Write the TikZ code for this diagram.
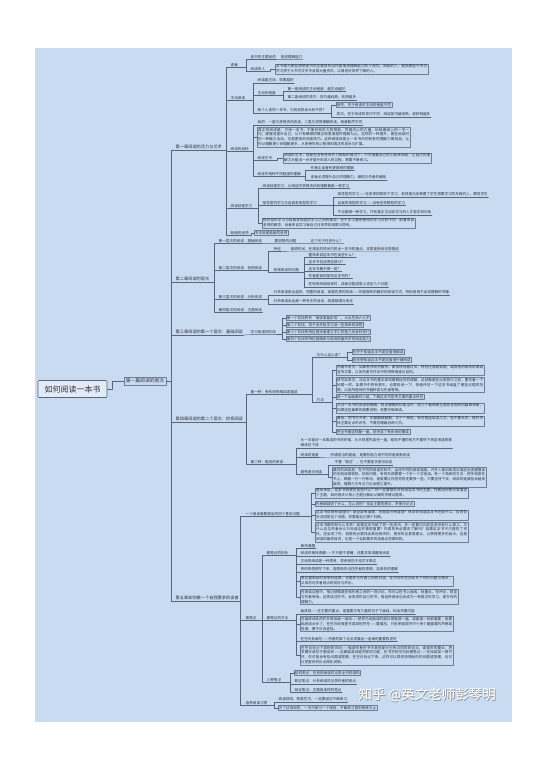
\documentclass[tikz,border=0pt]{standalone}
\usepackage{fontspec}
\setmainfont{Noto Sans CJK SC}
\XeTeXlinebreaklocale "zh"
\XeTeXlinebreakskip=0pt plus 0.5pt
\definecolor{bgblue}{RGB}{201,219,240}
\definecolor{linec}{RGB}{88,102,124}
\definecolor{boxc}{RGB}{110,126,150}
\definecolor{txtc}{RGB}{45,50,60}
\definecolor{rootf}{RGB}{226,235,247}
\tikzset{
  link/.style={draw=linec,line width=0.4pt},
  leafnode/.style={anchor=west,inner xsep=0.5pt,inner ysep=0.8pt,text=txtc,font=\fontsize{3.6}{4.8}\selectfont},
  chapnode/.style={leafnode,font=\fontsize{4.2}{5}\selectfont},
  tagnode/.style={leafnode,draw=boxc,line width=0.3pt,inner sep=0.8pt},
  paranode/.style={leafnode,draw=boxc,line width=0.3pt,inner sep=1pt,text width=#1,align=justify},
  booknode/.style={draw=linec,fill=rootf,line width=0.7pt,rounded corners=1pt,minimum width=69pt,minimum height=17pt,inner sep=2pt,text=txtc,font=\fontsize{8}{9}\selectfont},
  partnode/.style={draw=boxc,line width=0.4pt,inner sep=1.6pt,text=txtc,font=\fontsize{4.8}{5.5}\selectfont},
  wmnode/.style={font=\fontsize{13.5}{14}\selectfont}
}
\begin{document}
\begin{tikzpicture}[x=1pt,y=-1pt,line join=round,line cap=round]
\useasboundingbox (0,0) rectangle (546,767);
\fill[bgblue] (35,48) rectangle (512,722);

\node[booknode] (book) at (72.5,389) {如何阅读一本书};
\node[partnode] (p1) at (145,381) {第一篇阅读的层次};
\coordinate (t0) at (171,0);
\draw[link] (book.east) -- ++(5,0) |- (p1.west);

\node[chapnode] (c1) at (175,147) {第一章阅读的活力与艺术};
\node[chapnode] (c2) at (175,279) {第二章阅读的层次};
\node[chapnode] (c3) at (175,332) {第三章阅读的第一个层次：基础阅读};
\node[chapnode] (c4) at (175,419) {第四章阅读的第二个层次：检视阅读};
\node[chapnode] (c5) at (175,598) {第五章如何做一个自我要求的读者};
\draw[link] (p1.east) -- (p1.east -| t0);
\foreach \c in {c1,c2,c3,c4,c5}
  \draw[link] (p1.east -| t0) |- (\c.south west) -- (\c.south east);

\coordinate (t1) at (226,0);
\node[leafnode] (a1) at (230,65) {读者};
\node[leafnode] (a2) at (230,98) {主动阅读};
\node[leafnode] (a3) at (230,149) {阅读的目标};
\node[leafnode] (a4) at (230,206) {阅读就是学习};
\node[leafnode] (a5) at (230,233) {缺席的老师};
\draw[link] (c1.south east) -- (c1.south east -| t1);
\foreach \c in {a1,a2,a3,a4,a5}
  \draw[link] (c1.south east -| t1) |- (\c.south west) -- (\c.south east);

\coordinate (ta1) at (246,0);
\node[leafnode] (a1a) at (250,57) {读书的主要目的};
\node[leafnode] (a1a1) at (280,57) {增进理解能力};
\node[leafnode] (a1b) at (250,69) {阅读的人};
\node[paranode=151pt] (a1b1) at (275,69) {本书是为那些想把读书的主要目的当作是增进理解能力的人而写。阅读的人，是指那些今天仍然习惯于从书写文字中汲取大量资讯，以增进对世界了解的人。};
\draw[link] (a1.south east) -- (a1.south east -| ta1);
\foreach \c in {a1a,a1b}
  \draw[link] (a1.south east -| ta1) |- (\c.south west) -- (\c.south east);
\draw[link] (a1a.south east) -- (a1a1.south west) -- (a1a1.south east);
\draw[link] (a1b.south east) -- ++(4,0) |- (a1b1.west);

\coordinate (ta2) at (253,0);
\node[leafnode] (a2a) at (257,80) {阅读越主动，效果越好};
\node[leafnode] (a2b) at (257,93) {主动的程度};
\node[leafnode] (a2c) at (257,110) {两个人读同一本书，为何收获会大有不同？};
\draw[link] (a2.south east) -- (a2.south east -| ta2);
\foreach \c in {a2a,a2b,a2c}
  \draw[link] (a2.south east -| ta2) |- (\c.south west) -- (\c.south east);
\coordinate (ta2b) at (283,0);
\node[leafnode] (a2b1) at (287,89) {第一是阅读的主动程度：越主动越好};
\node[leafnode] (a2b2) at (287,97) {第二是阅读的技巧：技巧越纯熟，收获越多};
\draw[link] (a2b.south east) -- (a2b.south east -| ta2b);
\foreach \c in {a2b1,a2b2}
  \draw[link] (a2b.south east -| ta2b) |- (\c.south west) -- (\c.south east);
\coordinate (ta2c) at (331,0);
\node[tagnode] (a2c1) at (336,105) {首先，在于阅读时主动的程度不同};
\node[leafnode] (a2c2) at (336,114) {其次，在于阅读的技巧不同：阅读技巧越纯熟，收获就越多};
\draw[link] (a2c.south east) -- (a2c.south east -| ta2c) |- (a2c1.west);
\draw[link] (a2c.south east -| ta2c) |- (a2c2.south west) -- (a2c2.south east);

\coordinate (ta3) at (253,0);
\node[leafnode] (a3a) at (257,122) {目的：一是为获得资讯而读，二是为求得理解而读，两者截然不同};
\node[paranode=151pt] (a3b) at (257,137) {真正的阅读是：只用一本书，不靠任何外力的帮助，凭着内心的力量，玩味着纸上的一字一句，慢慢地提升自己，从只有模糊的概念到更清楚的理解为止。这样的一种提升，是在阅读时的一种脑力活动，也是更高的阅读技巧。这种阅读就是让一本书向你既有的理解力做挑战，让你从理解更少到理解更多，从而使你的心智得到真正的成长与扩展。};
\node[leafnode] (a3c) at (257,158) {阅读艺术};
\node[leafnode] (a3d) at (257,174) {阅读中两种不同程度的理解};
\draw[link] (a3.south east) -- (a3.south east -| ta3);
\foreach \c in {a3a,a3c,a3d}
  \draw[link] (a3.south east -| ta3) |- (\c.south west) -- (\c.south east);
\draw[link] (a3.south east -| ta3) |- (a3b.west);
\node[paranode=146pt] (a3c1) at (283,158) {阅读的艺术，就是在没有任何外力帮助的情况下，只凭借着自己的心智来阅读，让自己的理解力从粗浅一步步提升到深入的过程，需要不断练习。};
\draw[link] (a3c.south east) -- ++(4,0) |- (a3c1.west);
\coordinate (ta3d) at (305,0);
\node[leafnode] (a3d1) at (310,168) {作者比读者有更高明的理解};
\node[leafnode] (a3d2) at (310,177) {读者必须提升自己的理解力，缩短与作者的差距};
\draw[link] (a3d.south east) -- (a3d.south east -| ta3d);
\foreach \c in {a3d1,a3d2}
  \draw[link] (a3d.south east -| ta3d) |- (\c.south west) -- (\c.south east);

\coordinate (ta4) at (258,0);
\node[leafnode] (a4a) at (262,186) {阅读就是学习：从阅读中获得资讯和理解都是一种学习};
\node[leafnode] (a4b) at (262,203) {指导型的学习与自我发现型的学习};
\node[paranode=151pt] (a4c) at (262,223) {指导型的学习与自我发现型的学习之间的差异，在于学习者所使用的学习材料不同：前者来自老师的教导，后者来自学习者自己对世界的观察与思考。};
\draw[link] (a4.south east) -- (a4.south east -| ta4);
\foreach \c in {a4a,a4b}
  \draw[link] (a4.south east -| ta4) |- (\c.south west) -- (\c.south east);
\draw[link] (a4.south east -| ta4) |- (a4c.west);
\coordinate (ta4b) at (333,0);
\node[leafnode] (a4b1) at (337,194) {指导型的学习——在老师的帮助下学习，老师是已经掌握了学生想要学习的东西的人，教导学生};
\node[leafnode] (a4b2) at (337,203) {自我发现型的学习——没有老师帮助的学习};
\node[leafnode] (a4b3) at (337,212) {不论是哪一种学习，只有真正主动去学习的人才能学到东西};
\draw[link] (a4b.south east) -- (a4b.south east -| ta4b);
\foreach \c in {a4b1,a4b2,a4b3}
  \draw[link] (a4b.south east -| ta4b) |- (\c.south west) -- (\c.south east);
\node[tagnode] (a5a) at (254,233) {书本就是缺席的老师};
\draw[link] (a5.south east) -- ++(2,0) |- (a5a.west);

\coordinate (t2) at (214,0);
\node[leafnode] (b1) at (218,241) {第一层次的阅读：基础阅读};
\node[leafnode] (b2) at (218,268) {第二层次的阅读：检视阅读};
\node[leafnode] (b3) at (218,297) {第三层次的阅读：分析阅读};
\node[leafnode] (b4) at (218,310) {第四层次的阅读：主题阅读};
\draw[link] (c2.south east) -- (c2.south east -| t2);
\foreach \c in {b1,b2,b3,b4}
  \draw[link] (c2.south east -| t2) |- (\c.south west) -- (\c.south east);
\node[leafnode] (b1a) at (274,241) {要回答的问题};
\node[leafnode] (b1a1) at (310,241) {这个句子在说什么？};
\draw[link] (b1.south east) -- (b1a.south west) -- (b1a.south east) -- (b1a1.south west) -- (b1a1.south east);

\coordinate (tb2) at (268,0);
\node[leafnode] (b2a) at (273,249) {特征};
\node[leafnode] (b2a1) at (290,249) {强调时间，在规定的时间内抓出一本书的重点，本质是系统化的略读};
\node[leafnode] (b2b) at (273,270) {检视阅读的问题};
\draw[link] (b2.south east) -- (b2.south east -| tb2);
\foreach \c in {b2a,b2b}
  \draw[link] (b2.south east -| tb2) |- (\c.south west) -- (\c.south east);
\draw[link] (b2a.south east) -- (b2a1.south west) -- (b2a1.south east);
\coordinate (tb2b) at (304,0);
\node[leafnode] (b2b1) at (308,255) {整体来说这本书在谈些什么？};
\node[leafnode] (b2b2) at (308,262) {这本书包含哪些部分？};
\node[leafnode] (b2b3) at (308,269) {这本书属于哪一类？};
\node[leafnode] (b2b4) at (308,276) {作者是如何架构这本书的？};
\node[leafnode] (b2b5) at (308,284) {在检视阅读结束时，读者应能回答上述这几个问题};
\draw[link] (b2b.south east) -- (b2b.south east -| tb2b);
\foreach \c in {b2b1,b2b2,b2b3,b2b4,b2b5}
  \draw[link] (b2b.south east -| tb2b) |- (\c.south west) -- (\c.south east);

\coordinate (tb3) at (268,0);
\node[leafnode] (b3a) at (273,292) {分析阅读是全盘的、完整的阅读，或是优质的阅读——你能做到的最好的阅读方式，特别适用于追求理解的书籍};
\node[leafnode] (b3b) at (273,301) {分析阅读永远是一种专注的活动，就是咀嚼与消化};
\draw[link] (b3.south east) -- (b3.south east -| tb3);
\foreach \c in {b3a,b3b}
  \draw[link] (b3.south east -| tb3) |- (\c.south west) -- (\c.south east);

\node[leafnode] (cc1) at (250,332) {学习阅读的阶段};
\draw[link] (c3.south east) -- (cc1.south west) -- (cc1.south east);
\coordinate (tc3) at (282,0);
\node[tagnode] (cc1a) at (286,318) {第一个阶段称作“阅读准备阶段”，从出生到六七岁};
\node[tagnode] (cc1b) at (286,325) {第二个阶段，孩子会开始学习读一些简单的读物};
\node[tagnode] (cc1c) at (286,332) {第三个阶段的特征是快速建立字汇的能力及各种技巧};
\node[tagnode] (cc1d) at (286,339) {第四个阶段的特征是精练与增进前面所学的阅读能力};
\draw[link] (cc1.south east) -- (cc1.south east -| tc3);
\foreach \c in {cc1a,cc1b,cc1c,cc1d}
  \draw[link] (cc1.south east -| tc3) |- (\c.west);

\coordinate (t4) at (246,0);
\node[leafnode] (d1) at (250,392) {第一种：有系统的略读或粗读};
\node[leafnode] (d2) at (250,462) {第二种：粗浅的阅读};
\draw[link] (c4.south east) -- (c4.south east -| t4);
\foreach \c in {d1,d2}
  \draw[link] (c4.south east -| t4) |- (\c.south west) -- (\c.south east);
\coordinate (td1) at (312,0);
\node[leafnode] (d1a) at (316,355) {为什么这么读？};
\node[leafnode] (d1b) at (316,400) {方法};
\draw[link] (d1.south east) -- (d1.south east -| td1);
\foreach \c in {d1a,d1b}
  \draw[link] (d1.south east -| td1) |- (\c.south west) -- (\c.south east);
\coordinate (td1a) at (347,0);
\node[tagnode] (d1a1) at (352,352) {你并不知道这本书是否值得细读};
\node[tagnode] (d1a2) at (352,360) {但你想知道这本书是否值得仔细阅读};
\draw[link] (d1a.south east) -- (d1a.south east -| td1a);
\foreach \c in {d1a1,d1a2}
  \draw[link] (d1a.south east -| td1a) |- (\c.west);
\coordinate (td1b) at (332,0);
\node[paranode=146pt] (d1b1) at (336,370) {先看书名页，如果有序就先看序。要很快地看过去，特别注意副标题，或其他的相关说明或宣传文案，以及作者写作本书的特殊角度与目的。};
\node[paranode=146pt] (d1b2) at (336,385) {研究目录页，对这本书的基本架构做概括性的理解，这就像是在出发旅行之前，要先看一下地图一样。如果书中附有索引，也要检阅一下，快速评估一下这本书涵盖了哪些议题的范围，以及所提到的书籍种类与作者等等。};
\node[tagnode] (d1b3) at (336,397) {读一下出版者的介绍，了解这本书宣传文案的重点所在};
\node[paranode=146pt] (d1b4) at (336,408) {从对一本书的目录很概略、有点模糊的印象当中，挑几个看来跟主题息息相关的篇章来看，如果这些篇章有摘要说明，就要仔细阅读。};
\node[paranode=146pt] (d1b5) at (336,421) {最后，把书打开来，东翻翻西翻翻，念个一两段，有时候连续读几页，但不要太多。随时寻找主要论点的讯号，不要忽略最后两三页。};
\node[tagnode] (d1b6) at (336,432) {把全书都这样翻一遍，就完成了有系统的略读};
\draw[link] (d1b.south east) -- (d1b.south east -| td1b);
\foreach \c in {d1b1,d1b2,d1b3,d1b4,d1b5,d1b6}
  \draw[link] (d1b.south east -| td1b) |- (\c.west);

\coordinate (td2) at (296,0);
\node[leafnode,align=left] (d2a) at (300,443) {头一次面对一本难读的书的时候，从头到尾先读完一遍，碰到不懂的地方不要停下来查询或思索\\继续往下读};
\node[leafnode] (d2b) at (300,455) {阅读的速度};
\node[leafnode] (d2c) at (300,472) {避免逐字阅读};
\draw[link] (d2.south east) -- (d2.south east -| td2);
\foreach \c in {d2a,d2b,d2c}
  \draw[link] (d2.south east -| td2) |- (\c.south west) -- (\c.south east);
\node[leafnode] (d2b1) at (330,455) {所谓适当的速度，是要有能力用不同的速度来阅读};
\draw[link] (d2b.south east) -- (d2b1.south west) -- (d2b1.south east);
\coordinate (td2c) at (328,0);
\node[leafnode] (d2c1) at (334,462) {不要“默念”，也不要逐字逐句地读};
\node[paranode=152pt] (d2c2) at (332,477) {最好的阅读是：在不同的阅读材料中，运用不同的阅读速度。许多人被训练成对某些应该慢慢读的东西读得很快，但有时候，有的东西需要一个字一个字地读。有一个简单的方法：把手指放在书上，跟着一行一行移动，速度要比你感觉的还要快一些。只要坚持下去，阅读的速度就会越来越快，理解力与专注力也会随之提升。};
\draw[link] (d2c.south east) -- (d2c.south east -| td2c);
\draw[link] (d2c.south east -| td2c) |- (d2c1.south west) -- (d2c1.south east);
\draw[link] (d2c.south east -| td2c) |- (d2c2.west);

\coordinate (t5) at (240,0);
\node[leafnode] (e1) at (245,514) {一个阅读者要提出的四个基本问题};
\node[leafnode] (e2) at (245,618) {做笔记};
\node[leafnode] (e3) at (245,703) {培养阅读习惯};
\draw[link] (c5.south east) -- (c5.south east -| t5);
\foreach \c in {e1,e2,e3}
  \draw[link] (c5.south east -| t5) |- (\c.south west) -- (\c.south east);
\coordinate (te1) at (311,0);
\node[paranode=151pt] (e1a) at (315,493) {整体来说，这本书到底在谈些什么？你一定要想办法找出这本书的主题，作者如何依次发展这个主题，如何逐步从核心主题分解出从属的关键议题来。};
\node[tagnode] (e1b) at (315,504) {作者细部说了什么，怎么说的？找出主要的想法、声明与论点};
\node[paranode=151pt] (e1c) at (315,515) {这本书说得有道理吗？是全部有道理，还是部分有道理？除非你知道这本书在说什么，否则你无法回答这个问题，你要能自己做个判断。};
\node[paranode=151pt] (e1d) at (315,532) {这本书跟你有什么关系？如果这本书给了你一些资讯，你一定要问问这些资讯有什么意义。为什么这位作者会认为知道这件事很重要？你真的有必要去了解吗？如果这本书不只提供了资讯，还启发了你，就更有必要找出其他相关的、更深的含意或建议，以获得更多的启示，这是阅读的最终目的，也是一个自我要求的读者必须做到的。};
\draw[link] (e1.south east) -- (e1.south east -| te1);
\foreach \c in {e1a,e1b,e1c,e1d}
  \draw[link] (e1.south east -| te1) |- (\c.west);

\coordinate (te2) at (262,0);
\node[leafnode] (e2a) at (266,553) {做笔记的好处};
\node[leafnode] (e2b) at (266,618) {做笔记的方法};
\node[leafnode] (e2c) at (266,680) {三种笔记};
\draw[link] (e2.south east) -- (e2.south east -| te2);
\foreach \c in {e2a,e2b,e2c}
  \draw[link] (e2.south east -| te2) |- (\c.south west) -- (\c.south east);
\coordinate (te2a) at (296,0);
\node[leafnode] (e2a1) at (300,546) {保持清醒};
\node[leafnode] (e2a2) at (300,553) {阅读时保持清醒——不只是不昏睡，还要非常清醒地阅读};
\node[leafnode] (e2a3) at (300,561) {主动的阅读是一种思考，思考倾向于用文字表达};
\node[leafnode] (e2a4) at (300,569) {将你的感想写下来，能帮助你记住作者的思想，加深你的理解};
\node[paranode=151pt] (e2a5) at (300,581) {笔记是阅读时思考的结果，也是你与作者之间的对话，在书页的空白处写下你的问题与想法，以及你对作者观点的回应与评论。};
\node[paranode=156pt] (e2a6) at (300,597) {在阅读过程中，笔记就像是你和作者之间的一场讨论，你可以在书上画线、标重点、写评论，甚至与作者争辩。这样读过的书，会变成你自己的书，而这种阅读也会成为一种真正的学习，提升你的理解力。};
\draw[link] (e2a.south east) -- (e2a.south east -| te2a);
\foreach \c in {e2a1,e2a2,e2a3,e2a4}
  \draw[link] (e2a.south east -| te2a) |- (\c.south west) -- (\c.south east);
\foreach \c in {e2a5,e2a6}
  \draw[link] (e2a.south east -| te2a) |- (\c.west);
\coordinate (te2b) at (296,0);
\node[leafnode] (e2b1) at (300,611) {画底线——在主要的重点，或重要又有力量的句子下画线，标出关键内容};
\node[paranode=151pt] (e2b2) at (300,624) {在画底线处的栏外再加画一道线——把你已经画线的部分再强调一遍，或是某一段很重要，但要画底线太长了；在空白处做星号或其他符号——要慎用，只用来强调书中十来个最重要的声明或段落，便于日后查找。};
\node[leafnode] (e2b3) at (300,639) {在空白处编号——作者的某个论点发展出一连串的重要陈述时};
\node[paranode=151pt] (e2b4) at (300,655) {在空白处记下其他的页码——强调作者在书中其他部分也有过同样的论点，或相关的要点；将关键字或句子圈出来——这跟画底线是同样的功能；在书页的空白处做笔记——在阅读某一章节时，你可能会有些问题或答案，在空白处记下来，这样可以帮你回想起你的问题或答案，也可以把复杂的论点简化说明。};
\draw[link] (e2b.south east) -- (e2b.south east -| te2b);
\foreach \c in {e2b1,e2b3}
  \draw[link] (e2b.south east -| te2b) |- (\c.south west) -- (\c.south east);
\foreach \c in {e2b2,e2b4}
  \draw[link] (e2b.south east -| te2b) |- (\c.west);
\coordinate (te2c) at (290,0);
\node[tagnode] (e2c1) at (294,673) {结构笔记：在检视阅读时记录全书的架构};
\node[leafnode] (e2c2) at (294,681) {概念笔记：分析阅读时记录作者的观点};
\node[leafnode] (e2c3) at (294,690) {辩证笔记：主题阅读时的笔记};
\draw[link] (e2c.south east) -- (e2c.south east -| te2c);
\draw[link] (e2c.south east -| te2c) |- (e2c1.west);
\foreach \c in {e2c2,e2c3}
  \draw[link] (e2c.south east -| te2c) |- (\c.south west) -- (\c.south east);

\coordinate (te3) at (274,0);
\node[leafnode] (e3a) at (278,699) {阅读规则，熟能生巧，一定要经过不断练习};
\node[tagnode] (e3b) at (278,708) {为了达成目的，一次只练习一个规则，不断练习直到熟练为止};
\draw[link] (e3.south east) -- (e3.south east -| te3);
\draw[link] (e3.south east -| te3) |- (e3a.south west) -- (e3a.south east);
\draw[link] (e3.south east -| te3) |- (e3b.west);

\node[wmnode,text=black!45] (wmshade) at (428,695.8) {知乎 @英文老师彭琴明};
\node[wmnode,text=white] (wm) at (427.3,695) {知乎 @英文老师彭琴明};
\end{tikzpicture}
\end{document}
